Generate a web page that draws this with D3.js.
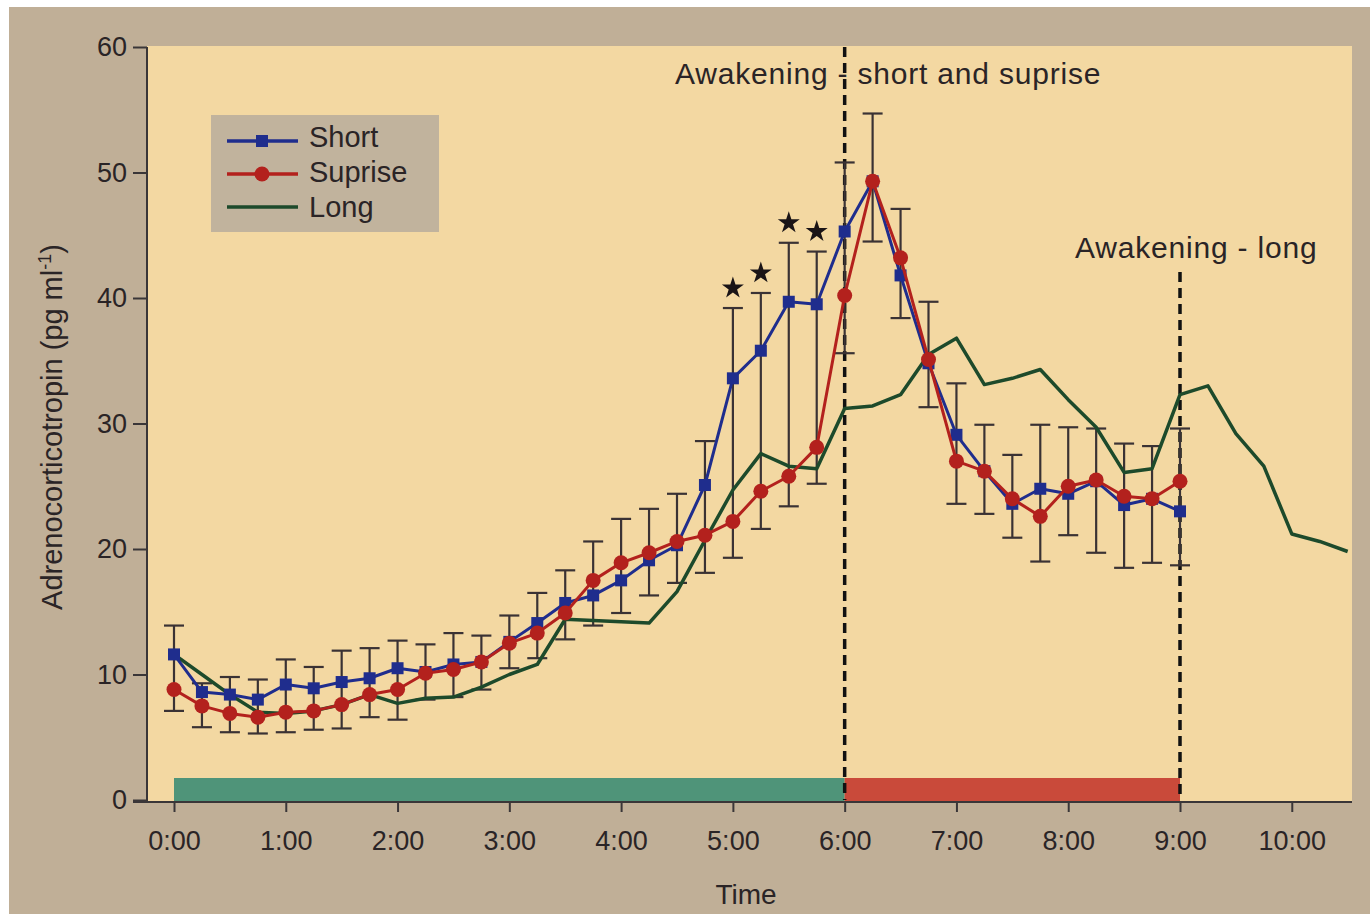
<!DOCTYPE html>
<html>
<head>
<meta charset="utf-8">
<script src="https://cdn.jsdelivr.net/npm/d3@7"></script>
<style>
  html, body { margin: 0; padding: 0; background: #ffffff; }
  svg text { font-family: "Liberation Sans", Arial, Helvetica, sans-serif; fill: #2a2426; }
</style>
</head>
<body>
<svg id="chart" width="1370" height="914"></svg>
<script>
// Sample times in hours after lights-out (every 15 minutes)
const sampleHours = d3.range(0, 9.001, 0.25);
const longHours = d3.range(0, 10.501, 0.25);

// ACTH (pg/ml) for the three wake-up conditions
const shortSeries = [11.6, 8.6, 8.4, 8.0, 9.2, 8.9, 9.4, 9.7, 10.5, 10.2, 10.8, 11.0,
  12.6, 14.1, 15.7, 16.3, 17.5, 19.1, 20.3, 25.1, 33.6, 35.8, 39.7, 39.5,
  45.3, 49.3, 41.8, 34.8, 29.1, 26.2, 23.6, 24.8, 24.4, 25.4, 23.5, 24.0, 23.0];
const surpriseSeries = [8.8, 7.5, 6.9, 6.6, 7.0, 7.1, 7.6, 8.4, 8.8, 10.1, 10.4, 11.0,
  12.5, 13.3, 14.9, 17.5, 18.9, 19.7, 20.6, 21.1, 22.2, 24.6, 25.8, 28.1,
  40.2, 49.3, 43.2, 35.1, 27.0, 26.2, 24.0, 22.6, 25.0, 25.5, 24.2, 24.0, 25.4];
const longSeries = [11.6, 10.0, 8.4, 7.0, 6.9, 7.1, 7.6, 8.4, 7.7, 8.1, 8.2, 9.0,
  10.0, 10.8, 14.4, 14.3, 14.2, 14.1, 16.6, 20.7, 24.7, 27.6, 26.6, 26.4,
  31.2, 31.4, 32.3, 35.5, 36.8, 33.1, 33.6, 34.3, 31.9, 29.7, 26.1, 26.4,
  32.3, 33.0, 29.2, 26.6, 21.2, 20.6, 19.8];

// Error bar extents at each sample time
const errorHigh = [13.9, 9.3, 9.8, 9.6, 11.2, 10.6, 11.9, 12.1, 12.7, 12.4, 13.3, 13.1,
  14.7, 16.5, 18.3, 20.6, 22.4, 23.2, 24.4, 28.6, 39.2, 40.4, 44.4, 43.7,
  50.8, 54.7, 47.1, 39.7, 33.2, 29.9, 27.5, 29.9, 29.7, 29.6, 28.4, 28.2, 29.6];
const errorLow = [7.1, 5.8, 5.4, 5.3, 5.4, 5.6, 5.7, 6.6, 6.4, 8.0, 8.2, 8.8,
  10.5, 11.3, 12.8, 13.9, 14.9, 16.3, 17.3, 18.1, 19.3, 21.6, 23.4, 25.2,
  35.6, 44.5, 38.4, 31.3, 23.6, 22.8, 20.9, 19.0, 21.1, 19.7, 18.5, 18.9, 18.7];

// Significant differences (hours)
const significantHours = [5.0, 5.25, 5.5, 5.75];

// Axis ticks
const xTickHours = d3.range(0, 11);
const xTickLabels = ["0:00", "1:00", "2:00", "3:00", "4:00", "5:00", "6:00", "7:00", "8:00", "9:00", "10:00"];
const yTicks = [0, 10, 20, 30, 40, 50, 60];

// Sleep phases shown along the baseline
const phases = [
  { start: 0, end: 6, color: "#4f9479" },
  { start: 6, end: 9, color: "#c94a3a" }
];
const awakeningHours = [6, 9];

const legendItems = [
  { name: "Short", color: "#1f2d8d", marker: "square" },
  { name: "Suprise", color: "#b3211d", marker: "circle" },
  { name: "Long", color: "#1d4a2b", marker: null }
];

const svg = d3.select("#chart");

// Paper frame and plot panel
svg.append("rect").attr("x", 9).attr("y", 7).attr("width", 1361).attr("height", 907).attr("fill", "#c0af97");
svg.append("rect").attr("x", 147).attr("y", 46).attr("width", 1205).attr("height", 756).attr("fill", "#f3d8a2");

const x = d3.scaleLinear().domain([0, 9]).range([174, 1180]);
const y = d3.scaleLinear().domain([0, 60]).range([800, 47]);

// Phase bars
svg.append("g").selectAll("rect").data(phases).join("rect")
  .attr("x", d => x(d.start)).attr("width", d => x(d.end) - x(d.start))
  .attr("y", y(0) - 22).attr("height", 22 + 2)
  .attr("fill", d => d.color);

// Awakening markers
svg.append("line")
  .attr("x1", x(awakeningHours[0])).attr("x2", x(awakeningHours[0]))
  .attr("y1", y(60)).attr("y2", y(0))
  .attr("stroke", "#111").attr("stroke-width", 3.5).attr("stroke-dasharray", "10,6");
svg.append("line")
  .attr("x1", x(awakeningHours[1])).attr("x2", x(awakeningHours[1]))
  .attr("y1", 272).attr("y2", y(0))
  .attr("stroke", "#111").attr("stroke-width", 3.5).attr("stroke-dasharray", "10,6");

svg.append("text").attr("x", 675).attr("y", 84)
  .attr("font-size", 30).attr("letter-spacing", 0.8)
  .text("Awakening - short and suprise");
svg.append("text").attr("x", 1075).attr("y", 258)
  .attr("font-size", 30).attr("letter-spacing", 0.8)
  .text("Awakening - long");

// Axes
const axisColor = "#3a3638";
const xAxis = d3.axisBottom(x).tickValues(xTickHours).tickSize(10).tickPadding(19)
  .tickFormat((d, i) => xTickLabels[i]);
const gx = svg.append("g").attr("transform", `translate(0,${y(0) + 2})`).call(xAxis);
gx.select(".domain").remove();
gx.selectAll(".tick line").attr("stroke", axisColor).attr("stroke-width", 2);
gx.selectAll(".tick text").attr("font-size", 27).attr("fill", "#2a2426");
svg.append("line").attr("x1", 133).attr("x2", 1352).attr("y1", y(0) + 2).attr("y2", y(0) + 2)
  .attr("stroke", axisColor).attr("stroke-width", 2);

const yAxis = d3.axisLeft(y).tickValues(yTicks).tickSize(14).tickPadding(6);
const gy = svg.append("g").attr("transform", "translate(147,0)").call(yAxis);
gy.select(".domain").remove();
gy.selectAll(".tick line").attr("stroke", axisColor).attr("stroke-width", 2);
gy.selectAll(".tick text").attr("font-size", 27).attr("fill", "#2a2426");
svg.append("line").attr("x1", 147).attr("x2", 147).attr("y1", y(60)).attr("y2", y(0) + 3)
  .attr("stroke", axisColor).attr("stroke-width", 2);

// Axis titles
svg.append("text").attr("x", 746).attr("y", 904).attr("text-anchor", "middle")
  .attr("font-size", 28).text("Time");
const yTitle = svg.append("text")
  .attr("transform", "translate(62,427) rotate(-90)")
  .attr("text-anchor", "middle").attr("font-size", 29);
yTitle.append("tspan").text("Adrenocorticotropin (pg ml");
yTitle.append("tspan").attr("font-size", 18).attr("dy", -11).text("-1");
yTitle.append("tspan").attr("dy", 11).text(")");

// Error bars
const errG = svg.append("g").attr("stroke", "#3a3234").attr("stroke-width", 2.2);
sampleHours.forEach((h, i) => {
  const cx = x(h);
  errG.append("line").attr("x1", cx).attr("x2", cx).attr("y1", y(errorHigh[i])).attr("y2", y(errorLow[i]));
  errG.append("line").attr("x1", cx - 10).attr("x2", cx + 10).attr("y1", y(errorHigh[i])).attr("y2", y(errorHigh[i]));
  errG.append("line").attr("x1", cx - 10).attr("x2", cx + 10).attr("y1", y(errorLow[i])).attr("y2", y(errorLow[i]));
});

// Significance stars
svg.append("g").selectAll("path").data(significantHours).join("path")
  .attr("d", d3.symbol(d3.symbolStar, 150))
  .attr("transform", d => {
    const i = sampleHours.indexOf(d);
    return `translate(${x(d)},${y(errorHigh[i]) - 20})`;
  })
  .attr("fill", "#1a1416");

const line = d3.line().x(d => x(d[0])).y(d => y(d[1]));

// Long
svg.append("path").datum(longHours.map((h, i) => [h, longSeries[i]]))
  .attr("d", line).attr("fill", "none")
  .attr("stroke", legendItems[2].color).attr("stroke-width", 3.5).attr("stroke-linejoin", "round");

// Short
const shortPts = sampleHours.map((h, i) => [h, shortSeries[i]]);
svg.append("path").datum(shortPts).attr("d", line).attr("fill", "none")
  .attr("stroke", legendItems[0].color).attr("stroke-width", 3).attr("stroke-linejoin", "round");
svg.append("g").selectAll("rect").data(shortPts).join("rect")
  .attr("x", d => x(d[0]) - 6).attr("y", d => y(d[1]) - 6)
  .attr("width", 12).attr("height", 12).attr("fill", legendItems[0].color);

// Surprise
const surprisePts = sampleHours.map((h, i) => [h, surpriseSeries[i]]);
svg.append("path").datum(surprisePts).attr("d", line).attr("fill", "none")
  .attr("stroke", legendItems[1].color).attr("stroke-width", 3).attr("stroke-linejoin", "round");
svg.append("g").selectAll("circle").data(surprisePts).join("circle")
  .attr("cx", d => x(d[0])).attr("cy", d => y(d[1])).attr("r", 7.5)
  .attr("fill", legendItems[1].color);

// Legend
const lg = svg.append("g");
lg.append("rect").attr("x", 211).attr("y", 115).attr("width", 228).attr("height", 117).attr("fill", "#c1b39d");
legendItems.forEach((d, i) => {
  const cy = 141 + i * 33;
  lg.append("line").attr("x1", 227).attr("x2", 298).attr("y1", cy).attr("y2", cy)
    .attr("stroke", d.color).attr("stroke-width", 3.5);
  if (d.marker === "square") {
    lg.append("rect").attr("x", 256).attr("y", cy - 6).attr("width", 12).attr("height", 12).attr("fill", d.color);
  } else if (d.marker === "circle") {
    lg.append("circle").attr("cx", 262).attr("cy", cy).attr("r", 7.5).attr("fill", d.color);
  }
  lg.append("text").attr("x", 309).attr("y", 147 + i * 35).attr("font-size", 29).text(d.name);
});
</script>
</body>
</html>
